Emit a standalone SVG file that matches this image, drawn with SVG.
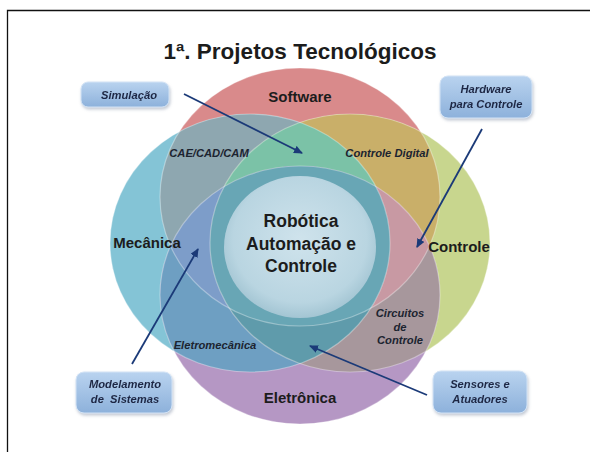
<svg xmlns="http://www.w3.org/2000/svg" width="590" height="452" viewBox="0 0 590 452">
<style>
.lbl{font-family:"Liberation Sans",Arial,sans-serif;font-weight:bold;fill:#1c1c1c;text-anchor:middle}
.big{font-size:15px}
.sm{font-size:11.2px;font-style:italic;fill:#1c2430}
.box{fill:url(#boxg);stroke:#d3e3f5;stroke-width:1}
.bt{font-family:"Liberation Sans",Arial,sans-serif;font-weight:bold;font-style:italic;font-size:11.2px;fill:#1f2844;text-anchor:middle}
.rim{fill:none;stroke:#ffffff;stroke-opacity:0.35;stroke-width:1.2}
.con{stroke:#1b3a78;stroke-width:1.8;fill:none;marker-end:url(#ah)}
</style>
<defs>
<clipPath id="cR"><ellipse cx="300" cy="197" rx="140" ry="129"/></clipPath>
<clipPath id="cT"><ellipse cx="250" cy="243" rx="140" ry="129"/></clipPath>
<clipPath id="cG"><ellipse cx="350" cy="243" rx="140" ry="129"/></clipPath>
<clipPath id="cP"><ellipse cx="300" cy="295" rx="140" ry="129"/></clipPath>
<linearGradient id="boxg" x1="0" y1="0" x2="0" y2="1">
<stop offset="0" stop-color="#b9d3ef"/>
<stop offset="1" stop-color="#8db1db"/>
</linearGradient>
<radialGradient id="cg" cx="0.5" cy="0.45" r="0.55">
<stop offset="0" stop-color="#cfe3ec"/>
<stop offset="0.8" stop-color="#b9d5e1"/>
<stop offset="1" stop-color="#a3c5d3"/>
</radialGradient>
<filter id="sh" x="-20%" y="-20%" width="140%" height="150%">
<feDropShadow dx="1" dy="2" stdDeviation="1.5" flood-color="#7a8aa0" flood-opacity="0.45"/>
</filter>
<marker id="ah" markerWidth="9" markerHeight="8" refX="8" refY="4" orient="auto" markerUnits="userSpaceOnUse">
<path d="M0,0 L9,4 L0,8 Z" fill="#1b3a78"/>
</marker>
</defs>
<rect width="590" height="452" fill="#ffffff"/>
<path d="M7.5,452 V10.5 H590" fill="none" stroke="#111" stroke-width="1.3"/>
<text x="300" y="59" class="lbl" style="font-size:22.5px">1ª. Projetos Tecnológicos</text>

<g id="node-software"><ellipse cx="300" cy="197" rx="140" ry="129" fill="#d98a8b"/></g>
<g id="node-mecanica"><ellipse cx="250" cy="243" rx="140" ry="129" fill="#84c4d6"/></g>
<g id="node-controle"><ellipse cx="350" cy="243" rx="140" ry="129" fill="#c8d68e"/></g>
<g id="node-eletronica"><ellipse cx="300" cy="295" rx="140" ry="129" fill="#b597c4"/></g>

<g id="overlaps">
<g clip-path="url(#cR)"><ellipse cx="250" cy="243" rx="140" ry="129" fill="#8ea7b0"/></g>
<g clip-path="url(#cR)"><ellipse cx="350" cy="243" rx="140" ry="129" fill="#c9af69"/></g>
<g clip-path="url(#cT)"><ellipse cx="350" cy="243" rx="140" ry="129" fill="#72bca6"/></g>
<g clip-path="url(#cR)"><ellipse cx="300" cy="295" rx="140" ry="129" fill="#c897a1"/></g>
<g clip-path="url(#cT)"><ellipse cx="300" cy="295" rx="140" ry="129" fill="#6e9fc2"/></g>
<g clip-path="url(#cG)"><ellipse cx="300" cy="295" rx="140" ry="129" fill="#a7979c"/></g>
<g clip-path="url(#cR)"><g clip-path="url(#cT)"><ellipse cx="350" cy="243" rx="140" ry="129" fill="#7bc2a7"/></g></g>
<g clip-path="url(#cR)"><g clip-path="url(#cT)"><ellipse cx="300" cy="295" rx="140" ry="129" fill="#7d9dc9"/></g></g>
<g clip-path="url(#cR)"><g clip-path="url(#cG)"><ellipse cx="300" cy="295" rx="140" ry="129" fill="#c899a3"/></g></g>
<g clip-path="url(#cT)"><g clip-path="url(#cG)"><ellipse cx="300" cy="295" rx="140" ry="129" fill="#5f9bab"/></g></g>
<g clip-path="url(#cR)"><g clip-path="url(#cT)"><g clip-path="url(#cG)"><ellipse cx="300" cy="295" rx="140" ry="129" fill="#68a6b5"/></g></g></g>
<ellipse cx="300" cy="197" rx="140" ry="129" class="rim"/>
<ellipse cx="250" cy="243" rx="140" ry="129" class="rim"/>
<ellipse cx="350" cy="243" rx="140" ry="129" class="rim"/>
<ellipse cx="300" cy="295" rx="140" ry="129" class="rim"/>
</g>

<g id="node-center">
<ellipse cx="300" cy="247" rx="76" ry="71" fill="url(#cg)"/>
<text class="lbl" style="font-size:17.5px"><tspan x="301" y="227">Robótica</tspan><tspan x="301" y="250">Automação e</tspan><tspan x="301" y="272">Controle</tspan></text>
</g>

<g id="labels">
<text x="300" y="102" class="lbl big">Software</text>
<text x="147" y="248" class="lbl big">Mecânica</text>
<text x="459" y="252" class="lbl big">Controle</text>
<text x="300" y="403" class="lbl big">Eletrônica</text>
<text x="209" y="157" class="lbl sm">CAE/CAD/CAM</text>
<text x="387" y="157" class="lbl sm">Controle Digital</text>
<text x="215" y="349" class="lbl sm">Eletromecânica</text>
<text class="lbl sm"><tspan x="400" y="317">Circuitos</tspan><tspan x="400" y="330.5">de</tspan><tspan x="400" y="344">Controle</tspan></text>
</g>

<g id="node-simulacao" filter="url(#sh)">
<rect x="81" y="82" width="88" height="25" rx="7" class="box"/>
<text x="129" y="98.5" class="bt">Simulação</text>
</g>
<g id="node-hardware" filter="url(#sh)">
<rect x="440" y="76" width="92" height="42" rx="8" class="box"/>
<text class="bt"><tspan x="486" y="93">Hardware</tspan><tspan x="486" y="108">para Controle</tspan></text>
</g>
<g id="node-modelamento" filter="url(#sh)">
<rect x="76" y="372" width="96" height="41" rx="8" class="box"/>
<text class="bt" style="white-space:pre"><tspan x="125" y="388">Modelamento</tspan><tspan x="125" y="403">de  Sistemas</tspan></text>
</g>
<g id="node-sensores" filter="url(#sh)">
<rect x="433" y="371" width="94" height="42" rx="8" class="box"/>
<text class="bt"><tspan x="480" y="388">Sensores e</tspan><tspan x="480" y="403">Atuadores</tspan></text>
</g>

<g id="connectors">
<line x1="184" y1="94" x2="302" y2="153" class="con"/>
<line x1="482" y1="129" x2="417" y2="247" class="con"/>
<line x1="132" y1="364" x2="198" y2="249" class="con"/>
<line x1="427" y1="395" x2="310" y2="346" class="con"/>
</g>
</svg>
